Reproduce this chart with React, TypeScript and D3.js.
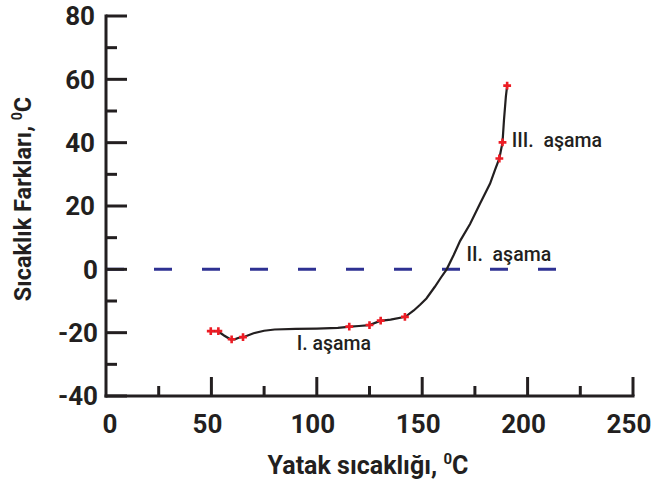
import * as d3 from "d3";
import { useEffect, useRef } from "react";

const dms = { width: 655, height: 484, left: 106, right: 633, top: 16, bottom: 396 };

// line: bed temperature vs temperature difference
const bedTemp = [50, 53, 56, 59, 61, 63, 66, 70, 75, 80, 90, 100, 110, 116, 120, 125, 130, 135, 142, 146, 149, 152, 156, 159, 161.6, 165, 168, 172.7, 177.4, 182.2, 184.5, 186.6, 188.1, 188.8, 189.7, 190.3];
const tempDiff = [-19.5, -19.5, -20.9, -22.1, -22.1, -21.6, -21.2, -20.2, -19.4, -19, -18.8, -18.7, -18.5, -18.1, -17.9, -17.6, -16.3, -15.9, -15, -13, -11.2, -9.2, -5.5, -2.5, 0, 4.6, 9, 14.3, 20.7, 27.1, 31.3, 35, 40.1, 47.2, 54.6, 58];

const markX = [49.7, 53.3, 59.6, 65, 115.4, 125, 130.3, 141.8, 186.6, 188.1, 190.3];
const markY = [-19.5, -19.5, -22.1, -21.4, -18.1, -17.6, -16.2, -15, 35, 40.1, 58];

const yMajor = [80, 60, 40, 20, 0, -20, -40];
const yMinor = [70, 50, 30, 10, -10, -30];
const xMajor = [0, 50, 100, 150, 200, 250];
const xMinor = [25, 75, 125, 175, 225];

const labels = [
  { text: "I. aşama", x: 90.5, y: -25.5 },
  { text: "II.  aşama", x: 171, y: 2.7 },
  { text: "III.  aşama", x: 192.5, y: 38.5 },
];

const ink = "#231f20";
const font = "Roboto, 'DejaVu Sans', sans-serif";

const App = () => {
  const ref = useRef<SVGSVGElement>(null);

  useEffect(() => {
    const svg = d3.select(ref.current);
    svg.selectAll("*").remove();

    const x = d3.scaleLinear().domain([0, 250]).range([dms.left, dms.right]);
    const y = d3.scaleLinear().domain([-40, 80]).range([dms.bottom, dms.top]);

    // zero reference line
    svg
      .append("line")
      .attr("x1", x(0))
      .attr("x2", x(213.5))
      .attr("y1", y(0))
      .attr("y2", y(0))
      .attr("stroke", "#2e3192")
      .attr("stroke-width", 3)
      .attr("stroke-dasharray", "18 30");

    // axes
    const axis = svg.append("g").attr("stroke", ink).attr("stroke-width", 3);
    axis.append("line").attr("x1", dms.left).attr("x2", dms.left).attr("y1", y(80) - 1.5).attr("y2", dms.bottom + 1.5);
    axis.append("line").attr("x1", dms.left - 1.5).attr("x2", x(250) + 1.5).attr("y1", dms.bottom).attr("y2", dms.bottom);

    axis.selectAll(".ymaj").data(yMajor).enter().append("line")
      .attr("x1", dms.left).attr("x2", dms.left + 21).attr("y1", (d) => y(d)).attr("y2", (d) => y(d));
    axis.selectAll(".ymin").data(yMinor).enter().append("line")
      .attr("x1", dms.left).attr("x2", dms.left + 11).attr("y1", (d) => y(d)).attr("y2", (d) => y(d));
    axis.selectAll(".xmaj").data(xMajor.slice(1)).enter().append("line")
      .attr("x1", (d) => x(d)).attr("x2", (d) => x(d)).attr("y1", dms.bottom).attr("y2", dms.bottom - 19);
    axis.selectAll(".xmin").data(xMinor).enter().append("line")
      .attr("x1", (d) => x(d)).attr("x2", (d) => x(d)).attr("y1", dms.bottom).attr("y2", dms.bottom - 10);

    // tick labels
    svg.append("g").selectAll("text").data(yMajor).enter().append("text")
      .attr("x", (d) => (d <= 0 ? 98 : 95)).attr("y", (d) => y(d)).attr("dy", "0.36em")
      .attr("text-anchor", "end").attr("font-family", font).attr("font-weight", 700)
      .attr("font-size", 26).attr("fill", ink).text((d) => d);
    svg.append("g").selectAll("text").data(xMajor).enter().append("text")
      .attr("x", (d) => (d === 0 ? x(d) + 4 : x(d) - 4)).attr("y", 433)
      .attr("text-anchor", "middle").attr("font-family", font).attr("font-weight", 700)
      .attr("font-size", 26).attr("fill", ink).text((d) => d);

    // axis titles
    const xt = svg.append("text").attr("x", 368).attr("y", 474).attr("text-anchor", "middle")
      .attr("font-family", font).attr("font-weight", 700).attr("font-size", 25).attr("fill", ink);
    xt.append("tspan").text("Yatak sıcaklığı, ");
    xt.append("tspan").attr("font-size", 15).attr("dy", -10).text("0");
    xt.append("tspan").attr("dy", 10).text("C");

    const yt = svg.append("text").attr("transform", "translate(31,199) rotate(-90)").attr("text-anchor", "middle")
      .attr("font-family", font).attr("font-weight", 700).attr("font-size", 23.5).attr("fill", ink);
    yt.append("tspan").text("Sıcaklık Farkları, ");
    yt.append("tspan").attr("font-size", 14).attr("dy", -9).text("0");
    yt.append("tspan").attr("dy", 9).text("C");

    // curve
    const line = d3.line<number>((_, i) => x(bedTemp[i]), (d) => y(d));
    svg.append("path").attr("d", line(tempDiff) ?? "").attr("fill", "none")
      .attr("stroke", ink).attr("stroke-width", 2.2);

    // measured points
    const cross = d3.symbol().type(d3.symbolCross).size(34);
    svg.append("g").selectAll("path").data(markX).enter().append("path")
      .attr("d", cross()).attr("fill", "#ed1c24")
      .attr("transform", (d, i) => `translate(${x(d)},${y(markY[i])})`);

    // stage labels
    svg.append("g").selectAll("text").data(labels).enter().append("text")
      .attr("x", (d) => x(d.x)).attr("y", (d) => y(d.y)).attr("font-family", font)
      .attr("font-weight", 500).attr("font-size", 19.5).attr("fill", ink)
      .attr("xml:space", "preserve").style("white-space", "pre").text((d) => d.text);
  }, []);

  return (
    <svg ref={ref} width={dms.width} height={dms.height}
      style={{ position: "absolute", left: 0, top: 0, background: "#fff" }} />
  );
};

export default App;
